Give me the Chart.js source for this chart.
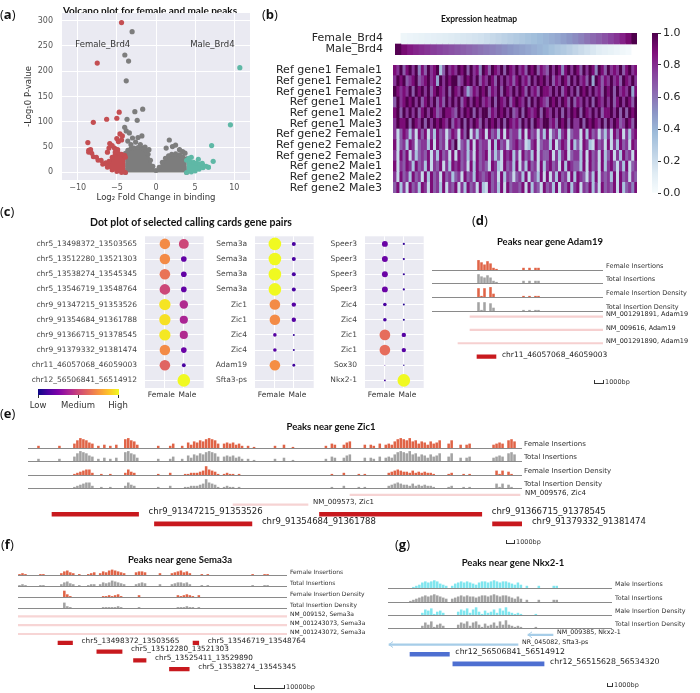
<!DOCTYPE html>
<html><head><meta charset="utf-8">
<script src="https://cdn.jsdelivr.net/npm/chart.js@4.4.0/dist/chart.umd.min.js"></script>
<style>
body{margin:0;background:#fff}
#fig{position:relative;width:700px;height:693px;overflow:hidden;font-family:"DejaVu Sans";color:#222}
#fig canvas{position:absolute}
.t{position:absolute;white-space:pre;line-height:1;transform:translateY(-50%);will-change:transform}
.c{transform:translate(-50%,-50%)}
.ttl{font-family:Lato;font-weight:bold;font-size:9.5px;color:#111}
.pl{font-family:"Open Sans";font-size:13px;color:#111}
.sb{position:absolute;height:3px;border:1px solid #333;border-top:none}
</style></head><body><div id="fig"></div><script>
// ---- (a) volcano ----
const volXTicks=[-10,-5,0,5,10];
const volYTicks=[0,50,100,150,200,250,300];
const volRedX=[-4.4,-7.5,-4.7,-6.3,-8.0,-5.0,-8.7,-8.35,-4.6,-5.0,-4.8,-5.9,-6.0,-5.3,-4.3,-4.4,-5.6,-6.2,-4.9,-5.2];
const volRedY=[296,216,119,105,99,107,59,45,76,67,61,57,48,48,72,64,53,40,45,40];
const volGreyX=[-3.05,-3.98,-3.5,-3.8,-1.7,-2.7,-2.4,-3.7,-4.0,-3.8,-3.0,-1.8,-2.3,-3.4,-3.6,-2.6,-3.2,1.7,2.1,2.5,3.4,3.7,1.3,-0.9,-1.4,-2.0,3.0];
const volGreyY=[278,232,220,181,125,120,103,105,89,82,68,72,69,78,62,60,55,64,51,54,41,38,48,45,50,55,45];
const volTealX=[10.7,9.5,7.1,7.3,5.4,5.9,4.5,4.2];
const volTealY=[207,94,53,22,26,18,30,28];
// outlines of the dense point clouds
const cloudGreyX=[-3.9,-3.9,-3.6,-3.2,-2.8,-2.3,-1.8,-1.3,-1.0,-0.7,-0.4,0,0.4,0.8,1.2,1.6,2.0,2.5,3.0,3.4,3.9,3.9];
const cloudGreyY=[0,38,44,47,48,49,48,44,36,24,12,4,10,20,28,33,36,37,35,31,27,0];
const cloudRedTopX=[-8.6,-8.2,-7.6,-7.0,-6.4,-6.0,-5.6,-5.2,-4.8,-4.4,-4.0,-3.9];
const cloudRedTopY=[44,38,30,24,19,22,30,36,38,36,34,30];
const cloudRedLowX=[-8.6,-8.0,-7.4,-6.8,-6.2,-5.6,-5.0,-4.4,-3.9];
const cloudRedLowY=[40,31,24,16,10,5,2,0,0];
const cloudTealTopX=[3.9,4.3,4.8,5.2,5.6,6.0,6.4,6.7];
const cloudTealTopY=[24,22,20,18,16,14,12,10];
const cloudTealLowX=[3.9,4.5,5.0,5.5,6.0,6.7];
const cloudTealLowY=[0,1,3,6,9,10];
const volNotes=['Female_Brd4','Male_Brd4'];
const volNoteX=[-6.8,7.2];
const volNoteY=[252,252];

// ---- (b) heatmap ----
const brd4Rows=['Female_Brd4','Male_Brd4'];
const brd4Female=[0.05,0.06,0.07,0.08,0.09,0.1,0.11,0.12,0.13,0.14,0.15,0.16,0.17,0.18,0.2,0.22,0.24,0.26,0.28,0.3,0.32,0.34,0.36,0.38,0.4,0.42,0.44,0.47,0.5,0.53,0.56,0.6,0.63,0.66,0.7,0.74,0.78,0.83,0.9,1.0];
const brd4Male=[0.98,0.9,0.85,0.82,0.8,0.78,0.76,0.74,0.72,0.7,0.68,0.66,0.64,0.62,0.6,0.58,0.56,0.54,0.52,0.5,0.48,0.46,0.44,0.42,0.4,0.38,0.35,0.32,0.3,0.27,0.24,0.21,0.18,0.15,0.12,0.1,0.08,0.06,0.04,0.02];
const hmRows=['Ref gene1 Female1','Ref gene1 Female2','Ref gene1 Female3','Ref gene1 Male1','Ref gene1 Male2','Ref gene1 Male3',
  'Ref gene2 Female1','Ref gene2 Female2','Ref gene2 Female3','Ref gene2 Male1','Ref gene2 Male2','Ref gene2 Male3'];
// one digit per column, 0 = 0.0 ... 9 = 1.0
const hmCells=[
  '8796897958 6978936978 7989697859 8698796987 9786989687 6979858979 8697985986 9787968978',
  '7989678967 8978497989 9679897968 7986979786 8978697989 7968798697 9786949868 7978698797',
  '9878796989 7968987969 8797468798 9687969879 7986978698 8797968979 6989797869 8969787948',
  '6978989796 8979686979 7968979897 8796987968 9879697987 6989798696 8797969879 7968979869',
  '8969797968 9798679887 6979896979 9687989796 7969878969 8797969798 9698797968 8979696989',
  '7988969879 6979898796 8796979869 7989796987 8697969879 9786989697 7969898796 9798679869',
  '7268737286 8273867268 7286927378 2867382867 7382867273 8267378267 7283867263 7286827378',
  '8267387267 7382867286 9267382867 7283867267 8672378267 7382687283 6287328672 8273867287',
  '7286827367 6827386728 2867372867 8273628783 7286738276 6827378267 7382867283 6827386728',
  '8276873867 3827682738 7867283867 6287328673 8273867283 7867283876 6382867283 7862738267',
  '7286738672 8386728673 6728673876 7867283762 6738276382 8273867283 8762738276 7382867276',
  '6837286738 7286738276 8273867283 2867382867 7682837628 6738276837 8276837286 7682836758'];
const cbTicks=[0,0.2,0.4,0.6,0.8,1.0];

// ---- (c) dot plot ----
const dotCols=['Female   ','   Male'];
const dotNames1=['chr5_13498372_13503565','chr5_13512280_13521303','chr5_13538274_13545345','chr5_13546719_13548764','chr9_91347215_91353526','chr9_91354684_91361788','chr9_91366715_91378545','chr9_91379332_91381474','chr11_46057068_46059003','chr12_56506841_56514912'];
const dotNames2=['Sema3a','Sema3a','Sema3a','Sema3a','Zic1','Zic1','Zic4','Zic4','Adam19','Sfta3-ps'];
const dotNames3=['Speer3','Speer3','Speer3','Speer3','Zic4','Zic4','Zic1','Zic1','Sox30','Nkx2-1'];
// level (0-1) and share (0-100) per dot
const dotF1v=[0.72,0.72,0.65,0.5,0.95,0.94,0.96,0.72,0.6,0], dotF1s=[70,70,70,70,80,80,80,70,70,0];
const dotM1v=[0.5,0.18,0.18,0.18,0.4,0.38,0.4,0.2,0.12,1.0], dotM1s=[62,20,20,20,45,42,42,20,9,100];
const dotF2v=[1,1,1,1,0.72,0.72,0.15,0.15,0.73,0], dotF2s=[100,100,100,100,70,70,8,8,70,0];
const dotM2v=[0.12,0.12,0.12,0.12,0.15,0.15,0.08,0.08,0.1,0], dotM2s=[10,10,10,10,12,12,2.5,2.5,5,0];
const dotF3v=[0.2,0.2,0.2,0.2,0.12,0.12,0.63,0.63,0.1,0.1], dotF3s=[22,22,22,22,8,8,72,72,0.6,2];
const dotM3v=[0.08,0.08,0.08,0.08,0.05,0.05,0.15,0.15,0.05,1], dotM3s=[3,3,3,3,2.5,2.5,12,12,1.2,100];
const dotLegend=['Low','Medium','High'];

// ---- (d)-(g) tracks, one digit per bin ----
const femTracks=['Female Insertions','Total Insertions','Female Insertion Density','Total Insertion Density'];
const maleTracks=['Male Insertions','Total Insertions','Male Insertion Density','Total Insertion Density'];
const dFemIns='000000000000000 9758621 00000000 2020220 00000000000000000000';
const dTotIns='000000000000000 8657521 00000000 2020220 00000000000000000000';
const dFemDen='000000000000000 8180930 00000000 1010110 00000000000000000000';
const dTotDen='000000000000000 8180730 00000000 1010110 00000000000000000000';
const dGeneNames=['NM_001291891, Adam19','NM_009616, Adam19','NM_001291890, Adam19'];
const dGeneStart=[46056354,46056354,46055130], dGeneEnd=[46069920,46069920,46069920], dGeneLane=[0,1,2];
const dPeaks=['chr11_46057068_46059003'], dPeakLane=[3];
const dRange=[46052478,46069920];

const eIns='0002000000 2000047987 5402030203 0089763000 0002000240 0205365768 9874045453 4202010000 0020030010 0000000002 0430035600 0030320403 4368987967 4653645700 4700303400 0000034540 78600';
const eDen='0000000000 0000012345 5200100100 0025320000 0001000200 0011222348 5431012110 1000000000 0000000000 0000000000 0100020000 1010000000 2345433242 3232210000 1200010100 0000004140 31000';
const eGeneNames=['NM_009576, Zic4','NM_009573, Zic1'];
const eGeneStart=[91368940,91360410], eGeneEnd=[91381332,91365877], eGeneLane=[0,1];
const ePeaks=['chr9_91347215_91353526','chr9_91354684_91361788','chr9_91366715_91378545','chr9_91379332_91381474'], ePeakLane=[2,3,2,3];
const eRange=[91345465,91381478];

const fIns='1210000110 0000245320 1001230243 5654320003 4430000200 0234534200 0101000000 0000000010 0011000000';
const fTotIns='1210000110 0000245320 1001220243 4654320002 3430000200 0234434200 0101000000 0000000010 0011000000';
const fDen='0000000000 0000073100 0000000011 2123100000 2000000000 0002123210 2000000000 0000000000 0000000000';
const fTotDen='0000000000 0000062100 0000000011 1112100000 1000000000 0001112110 1000000000 0000000000 0000000000';
const fGeneNames=['NM_009152, Sema3a','NM_001243073, Sema3a','NM_001243072, Sema3a'];
const fGeneStart=[13484052,13484052,13484052], fGeneEnd=[13580354,13580354,13580354], fGeneLane=[0,1,2];
const fPeaks=['chr5_13498372_13503565','chr5_13512280_13521303','chr5_13525411_13529890','chr5_13538274_13545345','chr5_13546719_13548764'], fPeakLane=[3,4,5,6,3];
const fRange=[13484052,13580354];

const gIns='0000000012 3565676432 0245656543 5665676566 5435302000 2000022000 0000000000 00000';
const gTotIns='0000000123 4565676543 0345656554 5665676566 5435302000 2000022000 0000000000 00000';
const gDen='0000000000 0254613420 0003546257 3142352647 3212100001 0000000000 0000000000 00000';
const gTotDen='0000000000 0253613420 0003546256 3142352637 3212100001 0000000000 0000000000 00000';
const gGeneNames=['NM_009385, Nkx2-1','NR_045082, Sfta3-ps'];
const gGeneStart=[56531031,56502536], gGeneEnd=[56536156,56528981], gGeneLane=[0,1];
const gPeaks=['chr12_56506841_56514912','chr12_56515628_56534320'], gPeakLane=[2,3];
const gRange=[56502331,56548251];

// ---- colours ----
const BG='#eaeaf2';
const BUPU=['#f7fcfd','#e0ecf4','#bfd3e6','#9ebcda','#8c96c6','#8c6bb1','#88419d','#810f7c','#4d004b'];
const PLASMA=['#0d0887','#4c02a1','#7e03a8','#a92395','#cc4778','#e56b5d','#f89540','#fdc527','#f0f921'];
const T_RED='#e06447',T_GREY='#a3a3a3',T_CYAN='#80e6ef';

Chart.defaults.font.family='"DejaVu Sans"';
Chart.defaults.color='#333';
Chart.defaults.animation=false;
Chart.defaults.responsive=false;
Chart.defaults.events=[];
Chart.defaults.plugins.legend.display=false;
Chart.defaults.plugins.tooltip.enabled=false;

const fig=document.getElementById('fig');
function cv(x,y,w,h){
  w=Math.round(w);h=Math.round(h);
  const c=document.createElement('canvas');
  c.width=w;c.height=h;
  c.style.left=x+'px';c.style.top=y+'px';c.style.width=w+'px';c.style.height=h+'px';
  fig.appendChild(c);return c;
}
function txt(s,x,y,cls,st){
  const d=document.createElement('div');
  d.className='t '+(cls||'');d.innerHTML=s;
  d.style.left=x+'px';d.style.top=y+'px';
  if(st)d.style.cssText+=st;
  fig.appendChild(d);return d;
}
function sbar(x0,x1,y,label,fs){
  const d=document.createElement('div');d.className='sb';
  d.style.left=x0+'px';d.style.top=(y-3)+'px';d.style.width=(x1-x0)+'px';
  fig.appendChild(d);
  txt(label,x1+3,y-1,'',`font-size:${fs}px;color:#333`);
}
const digits=s=>s.replace(/ /g,'').split('').map(Number);
const xy=(xs,ys)=>xs.map((x,i)=>({x,y:ys[i]}));
const coords=n=>n.split('_').slice(1).map(Number);
// axes may not push the plot area inwards for their labels
const noPad=s=>{s.paddingTop=0;s.paddingBottom=0;s.paddingLeft=0;s.paddingRight=0;};
function hex(h){return [1,3,5].map(i=>parseInt(h.substr(i,2),16));}
function cmap(list,v){
  v=Math.max(0,Math.min(1,v));
  const p=v*(list.length-1),i=Math.min(Math.floor(p),list.length-2),f=p-i;
  const a=hex(list[i]),b=hex(list[i+1]);
  return 'rgb('+a.map((c,k)=>Math.round(c+(b[k]-c)*f)).join(',')+')';
}

const bgPlugin={id:'bg',beforeDraw(c,a,o){
  if(!o||!o.color)return;
  const r=c.chartArea;c.ctx.save();c.ctx.fillStyle=o.color;
  c.ctx.fillRect(r.left,r.top,r.right-r.left,r.bottom-r.top);c.ctx.restore();
}};
const notePlugin={id:'notes',afterDatasetsDraw(c,a,o){
  const ctx=c.ctx;ctx.save();ctx.font='8.5px "DejaVu Sans"';ctx.fillStyle='#333';
  ctx.textAlign='center';ctx.textBaseline='middle';
  o.text.forEach((t,i)=>ctx.fillText(t,c.scales.x.getPixelForValue(o.x[i]),c.scales.y.getPixelForValue(o.y[i])));
  ctx.restore();
}};
const basePlugin={id:'baseline',beforeDatasetsDraw(c){
  const r=c.chartArea,ctx=c.ctx;ctx.save();ctx.strokeStyle='#8a8a8a';ctx.lineWidth=1;
  ctx.beginPath();ctx.moveTo(r.left,r.bottom+0.5);ctx.lineTo(r.right,r.bottom+0.5);ctx.stroke();ctx.restore();
}};
const featPlugin={id:'feat',afterDatasetsDraw(c){
  const ctx=c.ctx;ctx.save();ctx.textBaseline='middle';
  c.data.datasets.forEach((ds,di)=>{
    ctx.font=ds.labelFont;ctx.fillStyle='#222';
    c.getDatasetMeta(di).data.forEach((el,i)=>{
      const r=Math.max(el.x,el.base),l=Math.min(el.x,el.base);
      ctx.fillText(ds.names[i],r+ds.gap,el.y+ds.dy);
      if(ds.arrow){
        ctx.strokeStyle=ds.backgroundColor;ctx.lineWidth=1;ctx.beginPath();
        ctx.moveTo(l+4,el.y-3);ctx.lineTo(l,el.y);ctx.lineTo(l+4,el.y+3);ctx.stroke();
      }
    });
  });
  ctx.restore();
}};

// ---- panel labels and titles ----
txt('(<b>a</b>)',0,14,'pl');txt('(<b>b</b>)',262,14,'pl');txt('(<b>c</b>)',0,211,'pl');
txt('(<b>d</b>)',472,220,'pl');txt('(<b>e</b>)',0,413,'pl');txt('(<b>f</b>)',1,544,'pl');txt('(<b>g</b>)',395,544,'pl');
txt('Volcano plot for female and male peaks',150,10,'ttl c','font-size:10px');
txt('Expression heatmap',479,19,'ttl c','font-size:8.5px');
txt('Dot plot of selected calling cards gene pairs',191,222,'ttl c','font-size:10.5px');
txt('Peaks near gene Adam19',550,242,'ttl c');
txt('Peaks near gene Zic1',331,427,'ttl c');
txt('Peaks near gene Sema3a',180,560,'ttl c');
txt('Peaks near gene Nkx2-1',513,563,'ttl c');

// ---- (a) ----
const fmtMinus=v=>String(v).replace('-','\u2212');
const cloud=(d,col,fill)=>({type:'line',data:d,backgroundColor:col,borderColor:col,borderWidth:1,pointRadius:2.5,
  pointBackgroundColor:col,pointBorderWidth:0,fill,tension:0.3});
new Chart(cv(24,0,234,204),{
  type:'scatter',
  data:{datasets:[
    {data:xy(volRedX,volRedY),backgroundColor:'#c44e52',pointRadius:2.6,borderWidth:0},
    {data:xy(volGreyX,volGreyY),backgroundColor:'#7d7d7d',pointRadius:2.6,borderWidth:0},
    {data:xy(volTealX,volTealY),backgroundColor:'#5fb8a6',pointRadius:2.6,borderWidth:0},
    cloud(xy(cloudRedTopX,cloudRedTopY),'#c44e52','+1'),
    cloud(xy(cloudRedLowX,cloudRedLowY),'#c44e52',false),
    cloud(xy(cloudTealTopX,cloudTealTopY),'#5fb8a6','+1'),
    cloud(xy(cloudTealLowX,cloudTealLowY),'#5fb8a6',false),
    cloud(xy(cloudGreyX,cloudGreyY),'#7d7d7d','origin')
  ]},
  options:{
    layout:{padding:{top:13,right:8}},
    scales:{
      x:{type:'linear',min:-12,max:12,
        afterBuildTicks:s=>{s.ticks=volXTicks.map(v=>({value:v}));},
        ticks:{callback:fmtMinus,font:{size:8},color:'#555',padding:3},
        grid:{color:'#fff',drawTicks:false},border:{display:false},
        title:{display:true,text:'Log\u2082 Fold Change in binding',font:{size:8.5},color:'#333',padding:{top:0,bottom:1}},
        afterFit:s=>{s.height=24;noPad(s);}},
      y:{type:'linear',min:-15,max:315,
        afterBuildTicks:s=>{s.ticks=volYTicks.map(v=>({value:v}));},
        ticks:{font:{size:8},color:'#555',padding:9},
        grid:{color:'#fff',drawTicks:false},border:{display:false},
        title:{display:true,text:'-Log\u20810 P-value',font:{size:8.5},color:'#333',padding:{top:0,bottom:2}},
        afterFit:s=>{s.width=38;noPad(s);}}
    },
    plugins:{bg:{color:BG},notes:{text:volNotes,x:volNoteX,y:volNoteY}}
  },
  plugins:[bgPlugin,notePlugin]
});

// ---- (b) ----
const brd4Sets=[{data:[1,0],backgroundColor:'rgba(0,0,0,0)'}];
brd4Female.forEach((v,k)=>brd4Sets.push({data:[1,1],backgroundColor:[cmap(BUPU,v),cmap(BUPU,brd4Male[k])]}));
brd4Sets.push({data:[0,1],backgroundColor:'rgba(0,0,0,0)'});
brd4Sets.forEach(d=>{d.barPercentage=1;d.categoryPercentage=1;d.borderWidth=0;});
new Chart(cv(255,30,385,28),{
  type:'bar',data:{labels:brd4Rows,datasets:brd4Sets},
  options:{indexAxis:'y',layout:{padding:{top:3,bottom:3,right:3}},
    scales:{x:{stacked:true,display:false,min:0,max:brd4Female.length+1},
      y:{stacked:true,grid:{display:false},border:{display:false},
        ticks:{autoSkip:false,font:{size:11},color:'#262626',padding:4},afterFit:s=>{s.width=140;noPad(s);}}}}
});
const hmGrid=hmCells.map(digits);
const hmN=Math.min(...hmGrid.map(r=>r.length));
const hmSets=[];
for(let j=0;j<hmN;j++)hmSets.push({data:hmRows.map(()=>1),backgroundColor:hmGrid.map(r=>cmap(BUPU,r[j]/9)),
  barPercentage:1,categoryPercentage:1,borderWidth:0});
new Chart(cv(255,60,385,140),{
  type:'bar',data:{labels:hmRows,datasets:hmSets},
  options:{indexAxis:'y',layout:{padding:{top:5,bottom:7,right:3}},
    scales:{x:{stacked:true,display:false,min:0,max:hmN},
      y:{stacked:true,grid:{display:false},border:{display:false},
        ticks:{autoSkip:false,font:{size:11},color:'#262626',padding:3},afterFit:s=>{s.width=138;noPad(s);}}}}
});
new Chart(cv(645,28,45,170),{
  type:'bar',data:{labels:[''],datasets:[{data:[1],barPercentage:1,categoryPercentage:1,borderWidth:0,
    backgroundColor:c=>{const a=c.chart.chartArea;if(!a)return '#ccc';
      const g=c.chart.ctx.createLinearGradient(0,a.bottom,0,a.top);
      BUPU.forEach((col,i)=>g.addColorStop(i/(BUPU.length-1),col));return g;}}]},
  options:{layout:{padding:{left:7,top:5,bottom:5}},
    scales:{x:{display:false},
      y:{position:'right',min:0,max:1,afterBuildTicks:s=>{s.ticks=cbTicks.map(v=>({value:v}));},
        ticks:{callback:v=>v.toFixed(1),font:{size:11},color:'#262626',padding:2},
        grid:{drawOnChartArea:false,drawTicks:true,tickLength:3,color:'#333'},border:{display:false},
        afterFit:s=>{s.width=32;noPad(s);}}}}
});

// ---- (c) ----
function dotPlot(x,w,yw,names,fv,fs,mv,ms){
  const pts=(col,s)=>s.map((v,i)=>({x:col,y:i,r:0.63*Math.sqrt(v)}));
  new Chart(cv(x,230,w,175),{
    type:'bubble',
    data:{datasets:[
      {data:pts(0,fs),backgroundColor:fv.map(v=>cmap(PLASMA,v)),borderWidth:0},
      {data:pts(1,ms),backgroundColor:mv.map(v=>cmap(PLASMA,v)),borderWidth:0}]},
    options:{layout:{padding:{top:5,right:6}},
      scales:{
        x:{type:'linear',min:-1.05,max:2.05,afterBuildTicks:s=>{s.ticks=[0,1].map(v=>({value:v}));},
          ticks:{callback:v=>dotCols[v],font:{size:7.5},color:'#333',padding:3},
          grid:{color:'#fff',drawTicks:false},border:{display:false},afterFit:s=>{s.height=17;noPad(s);}},
        y:{type:'linear',min:-0.5,max:9.5,reverse:true,afterBuildTicks:s=>{s.ticks=names.map((n,i)=>({value:i}));},
          ticks:{callback:v=>names[v],font:{size:7.5},color:'#444',padding:8},
          grid:{color:'#fff',drawTicks:false},border:{display:false},afterFit:s=>{s.width=yw;noPad(s);}}},
      plugins:{bg:{color:BG}}},
    plugins:[bgPlugin]
  });
}
dotPlot(20,190,125,dotNames1,dotF1v,dotF1s,dotM1v,dotM1s);
dotPlot(210,110,45,dotNames2,dotF2v,dotF2s,dotM2v,dotM2s);
dotPlot(320,110,45,dotNames3,dotF3v,dotF3s,dotM3v,dotM3s);
{
  const lg=document.createElement('div');
  lg.style.cssText='position:absolute;left:38px;top:389px;width:81px;height:6px;background:linear-gradient(to right,'+PLASMA.join(',')+')';
  fig.appendChild(lg);
  [38,78,118].forEach((x,i)=>{
    const tk=document.createElement('div');
    tk.style.cssText=`position:absolute;left:${x}px;top:395px;width:1px;height:3px;background:#333`;
    fig.appendChild(tk);
    txt(dotLegend[i],x,405,'c','font-size:8.5px;color:#333');
  });
}

// ---- (d)-(g) ----
function tracks(x0,x1,bases,h,series,colors,names,lx,off,fs){
  series.forEach((s,k)=>{
    const arr=digits(s);
    new Chart(cv(x0,bases[k]-h,x1-x0,h+1),{
      type:'bar',
      data:{labels:arr.map((v,i)=>i),datasets:[{data:arr,backgroundColor:colors[k],categoryPercentage:1,barPercentage:0.85,borderWidth:0}]},
      options:{layout:{padding:{bottom:1}},scales:{x:{display:false},y:{display:false,min:0,max:10}}},
      plugins:[basePlugin]
    });
    txt(names[k],lx,bases[k]-off,'',`font-size:${fs}px;color:#333`);
  });
}
function features(x0,x1,cw,y0,sp,lanes,range,sets){
  const top=Math.round(y0-sp/2-4);
  const h=Math.round(lanes*sp+8);
  const laneIds=Array.from({length:lanes},(v,i)=>'L'+i);
  new Chart(cv(x0,top,cw,h),{
    type:'bar',
    data:{labels:laneIds,datasets:sets.map(st=>({data:st.s.map((s,i)=>({x:[s,st.e[i]],y:'L'+st.lane[i]})),
      backgroundColor:st.color,barThickness:st.th,grouped:false,borderWidth:0,
      names:st.names,labelFont:st.font,gap:st.gap,dy:st.dy,arrow:st.arrow}))},
    options:{indexAxis:'y',layout:{padding:{left:0,right:cw-(x1-x0),top:4,bottom:h-8-lanes*sp+4}},
      scales:{x:{type:'linear',min:range[0],max:range[1],offset:false,display:false},
        y:{type:'category',display:false}}},
    plugins:[featPlugin]
  });
}
const genes=(names,s,e,lane,color,fs,gap,arrow)=>({names,s,e,lane,color,th:1.5,font:fs+'px "DejaVu Sans"',gap,dy:-2,arrow});
const peaks=(names,lane,color,th,fs,gap)=>({names,s:names.map(n=>coords(n)[0]),e:names.map(n=>coords(n)[1]),lane,color,th,font:fs+'px "DejaVu Sans"',gap,dy:-2});

// (d)
tracks(432,603,[270,283,297,311],11,[dFemIns,dTotIns,dFemDen,dTotDen],[T_RED,T_GREY,T_RED,T_GREY],femTracks,606,4,6.5);
features(432,603,268,317,13.3,4,dRange,[
  genes(dGeneNames,dGeneStart,dGeneEnd,dGeneLane,'#f6d0d0',6.5,3,false),
  peaks(dPeaks,dPeakLane,'#c8191e',3.5,7.5,6)]);
sbar(594,602,383,'1000bp',6.5);
// (e)
tracks(28,522,[448,461,475,488],11,[eIns,eIns,eDen,eDen],[T_RED,T_GREY,T_RED,T_GREY],femTracks,524,4,7);
features(28,522,672,495,9.7,4,eRange,[
  genes(eGeneNames,eGeneStart,eGeneEnd,eGeneLane,'#f6d3d3',7,5,false),
  peaks(ePeaks,ePeakLane,'#c8191e',4,8.5,10)]);
sbar(506,513,543,'1000bp',6.5);
// (f)
tracks(18,287,[575,586,597,608],9,[fIns,fTotIns,fDen,fTotDen],[T_RED,T_GREY,T_RED,T_GREY],femTracks,290,3,6);
features(18,287,362,616,8.8,7,fRange,[
  genes(fGeneNames,fGeneStart,fGeneEnd,fGeneLane,'#f7d5d5',6,3,false),
  peaks(fPeaks,fPeakLane,'#c8191e',3.5,7.3,9)]);
sbar(254,283,688,'10000bp',6.5);
// (g)
tracks(388,612,[588,602,615,628],11,[gIns,gTotIns,gDen,gTotDen],[T_CYAN,T_GREY,T_CYAN,T_GREY],maleTracks,615,4,6.3);
features(388,612,312,635,9.7,4,gRange,[
  genes(gGeneNames,gGeneStart,gGeneEnd,gGeneLane,'#a6cde8',6.3,4,true),
  peaks(gPeaks,gPeakLane,'#4e6fd1',4,7.8,6)]);
sbar(607,611,686,'1000bp',6.5);
</script></body></html>
